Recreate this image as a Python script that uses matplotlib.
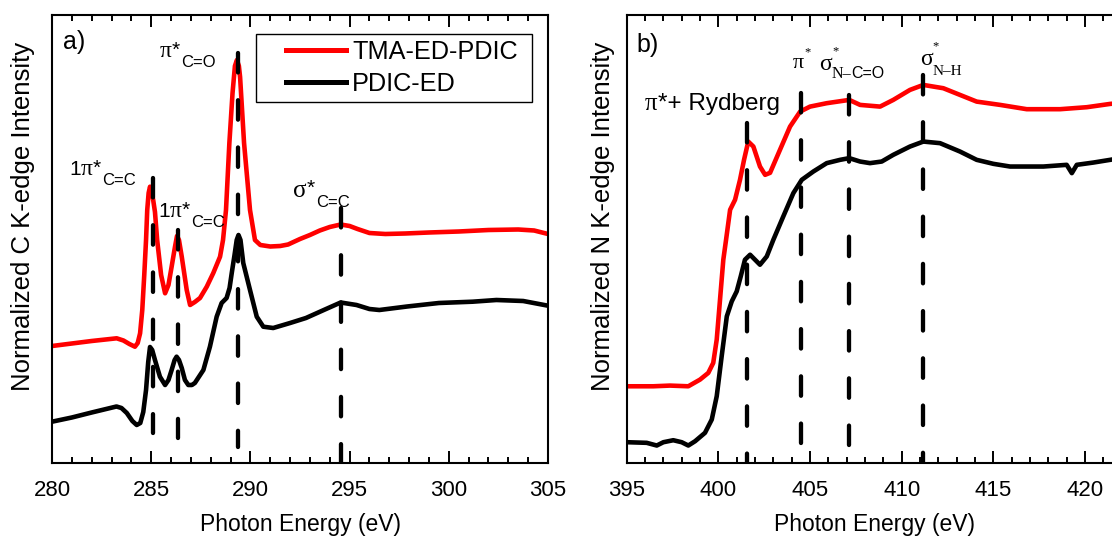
import matplotlib
matplotlib.use("Agg")
import matplotlib.pyplot as plt
from matplotlib.ticker import MultipleLocator
from matplotlib.legend_handler import HandlerLine2D
from matplotlib.lines import Line2D

plt.rcParams["font.family"] = ["Liberation Sans", "DejaVu Sans"]
plt.rcParams["lines.scale_dashes"] = False

SANS = ["Liberation Sans", "DejaVu Sans"]
SERIF = ["Liberation Serif", "DejaVu Serif"]

# ---------------- C K-edge (panel a) ----------------
c_energy_tma = [280.0, 281.0, 282.0, 283.26, 283.6, 283.9, 284.18, 284.32, 284.44, 284.55,
                284.65, 284.74, 284.8, 284.87, 284.94, 285.02, 285.1, 285.19, 285.3, 285.5,
                285.7, 285.87, 286.03, 286.2, 286.3, 286.4, 286.54, 286.79, 286.96, 287.2,
                287.46, 287.8, 288.13, 288.47, 288.62, 288.77, 288.94, 289.1, 289.22, 289.32,
                289.42, 289.48, 289.68, 289.98, 290.23, 290.5, 291.0, 291.5, 291.9, 292.5,
                293.0, 293.5, 294.0, 294.55, 295.0, 295.4, 296.0, 296.8, 297.8, 299.0,
                300.5, 302.0, 303.5, 304.3, 305.0]
c_int_tma = [117, 119.5, 122, 124.7, 122.5, 119, 116.3, 120, 129.7, 153,
             188, 223, 253, 270, 276.3, 271, 263, 251, 223, 188,
             169.7, 178, 196.3, 216.3, 227, 223, 206.3, 173, 158, 161,
             165, 176.3, 190, 206.3, 223, 253, 320, 370, 397, 403,
             397, 386, 320, 253, 223, 218, 216.5, 217, 218.5, 224,
             228, 232.5, 236, 238.5, 237, 234, 230, 229, 229.5, 230.5,
             231.5, 233, 233.5, 232.5, 229]

c_energy_pdic = [280.0, 281.0, 282.0, 283.25, 283.5, 283.77, 284.05, 284.27, 284.45, 284.6,
                 284.74, 284.85, 284.94, 285.05, 285.19, 285.44, 285.7, 285.87, 286.03, 286.18,
                 286.28, 286.4, 286.54, 286.7, 286.87, 287.05, 287.2, 287.63, 287.96, 288.3,
                 288.55, 288.8, 288.95, 289.06, 289.2, 289.31, 289.4, 289.5, 289.64, 289.98,
                 290.32, 290.65, 291.15, 292.0, 292.8, 293.7, 294.55, 295.35, 296.0, 296.5,
                 297.9, 299.5, 301.2, 302.4, 303.75, 305.0]
c_int_pdic = [41.3, 45.5, 50.5, 56.5, 55, 50, 42, 38, 40, 51,
              73, 101, 116, 113, 103, 86.3, 78, 83, 93, 103,
              106.3, 103, 95, 83, 78, 78, 80, 93, 116.3, 146.3,
              160, 165, 175, 190, 208, 223, 228, 223, 200, 173,
              146.3, 136.3, 135, 140, 145, 153, 160.5, 158, 154, 153,
              156.5, 160, 161.3, 163, 162, 157.3]

c_marker_energy = [285.1, 286.35, 289.35, 294.55]
c_marker_top = [285, 233, 410, 255]
c_marker_bottom = [30, 25, 16, 0]

# ---------------- N K-edge (panel b) ----------------
n_energy_tma = [395.03, 396.45, 397.36, 398.36, 399.0, 399.45, 399.72, 399.91, 400.09, 400.27,
                400.42, 400.64, 400.91, 401.18, 401.4, 401.63, 401.91, 402.27, 402.55, 402.82,
                403.36, 403.91, 404.46, 405.0, 405.91, 407.14, 407.73, 408.82, 409.54, 410.45,
                411.18, 412.27, 413.18, 414.09, 415.37, 416.82, 418.64, 420.1, 421.37, 422.0]
n_int_tma = [76.3, 76.3, 77, 76.3, 83, 89.7, 99.7, 123, 163, 203,
             223, 253, 263, 283, 303, 321.3, 316.3, 296.3, 288, 290,
             313, 336.3, 351.3, 356.3, 359.7, 363, 358, 356.3, 363, 373,
             378, 374.7, 368, 361.3, 358, 353.7, 353.7, 355.7, 359, 360]

n_energy_pdic = [395.03, 396.09, 396.64, 397.0, 397.54, 398.0, 398.36, 398.73, 399.27, 399.64,
                 399.91, 400.18, 400.46, 400.73, 401.0, 401.22, 401.45, 401.73, 402.0, 402.27,
                 402.64, 403.0, 403.54, 404.09, 404.55, 405.18, 405.91, 406.64, 407.14, 407.73,
                 408.27, 408.91, 409.54, 410.45, 411.18, 412.09, 413.18, 414.09, 415.0, 415.91,
                 417.73, 419.0, 419.28, 419.55, 420.46, 421.37, 422.0]
n_int_pdic = [20.3, 19.7, 17, 20.3, 22.3, 20.3, 17, 21.3, 29.7, 43,
              66.3, 106.3, 146.3, 161.3, 171.3, 186.3, 203, 208, 203, 198,
              206.3, 223, 246.3, 269.7, 283, 291.3, 299.7, 303, 304.7, 301.3,
              299.7, 301.3, 308, 316.3, 321.3, 319.7, 311.3, 303, 299, 296.3,
              296.3, 298, 289.7, 298, 300.3, 303, 305]

n_marker_energy = [401.58, 404.51, 407.15, 411.18]
n_marker_top = [340, 370, 368, 388]
n_marker_bottom = [0, 0, 0, 0]

series_labels = ["TMA-ED-PDIC", "PDIC-ED"]
series_colors = ["#ff0000", "#000000"]


def place_label(ax, x, y, pieces):
    """Lay text pieces out left to right; each piece starts at the right
    edge of its anchor piece and may be shifted (points) up or down."""
    placed = []
    for text, size, family, dx, dy, anchor in pieces:
        if not placed:
            t = ax.annotate(text, xy=(x, y), xycoords="data",
                            xytext=(dx, dy), textcoords="offset points",
                            fontsize=size, family=family,
                            ha="left", va="baseline")
        else:
            t = ax.annotate(text, xy=(1, y), xycoords=(placed[anchor], "data"),
                            xytext=(dx, dy), textcoords="offset points",
                            fontsize=size, family=family,
                            ha="left", va="baseline")
        placed.append(t)
    return placed


def style_axes(ax, xmin, xmax):
    ax.set_xlim(xmin, xmax)
    ax.set_ylim(0, 448)
    ax.set_yticks([])
    ax.xaxis.set_major_locator(MultipleLocator(5))
    ax.xaxis.set_minor_locator(MultipleLocator(1))
    ax.tick_params(axis="x", which="both", direction="in", top=True,
                   width=1.4, labelsize=16, pad=12.5)
    ax.tick_params(axis="x", which="major", length=8.5)
    ax.tick_params(axis="x", which="minor", length=4.5)
    for sp in ax.spines.values():
        sp.set_linewidth(1.5)
    ax.set_xlabel("Photon Energy (eV)", fontsize=16.5)
    ax.xaxis.set_label_coords(0.5, -0.112)


def draw_markers(ax, energies, tops, bottoms):
    for e, t, b in zip(energies, tops, bottoms):
        ax.plot([e, e], [t, b], color="black", lw=3.1,
                dashes=(14, 20), dash_capstyle="round", zorder=5)


fig = plt.figure(figsize=(11.12, 5.36), dpi=100)
axL = fig.add_axes([52 / 1112, 73 / 536, 496 / 1112, 448 / 536])
axR = fig.add_axes([626.7 / 1112, 73.5 / 536, 495 / 1112, 447.5 / 536])

# panel a
lr, = axL.plot(c_energy_tma, c_int_tma, color=series_colors[0], lw=3.3,
               solid_joinstyle="round", label=series_labels[0])
lb, = axL.plot(c_energy_pdic, c_int_pdic, color=series_colors[1], lw=3.3,
               solid_joinstyle="round", label=series_labels[1])
draw_markers(axL, c_marker_energy, c_marker_top, c_marker_bottom)
style_axes(axL, 280, 305)
axL.set_ylabel("Normalized C K-edge Intensity", fontsize=18.5)
axL.yaxis.set_label_coords(-0.0335, 0.55)
axL.text(0.023, 0.939, "a)", transform=axL.transAxes, fontsize=18, va="center")

place_label(axL, 285.44, 406, [("π", 17, SERIF, 0, 0, -1),
                                ("*", 15, SANS, 0, 1, -1),
                                ("C=O", 12, SANS, 1, -7, -1)])
place_label(axL, 280.86, 288, [("1", 15, SANS, 0, 0, -1),
                                ("π", 17, SERIF, 0, 0, -1),
                                ("*", 15, SANS, 0, 1, -1),
                                ("C=C", 12, SANS, 1, -7, -1)])
place_label(axL, 285.34, 246, [("1", 15, SANS, 0, 0, -1),
                                ("π", 17, SERIF, 0, 0, -1),
                                ("*", 15, SANS, 0, 1, -1),
                                ("C=C", 12, SANS, 1, -7, -1)])
place_label(axL, 292.15, 266, [("σ", 18, SERIF, 0, 0, -1),
                                ("*", 15, SANS, 0, 2, -1),
                                ("C=C", 12, SANS, 1, -7, -1)])

leg = axL.legend(handles=[lr, lb], loc="upper left",
                 bbox_to_anchor=(0.4113, 0.5, 0.5565, 0.4576), mode="expand",
                 fontsize=18.2, frameon=True, fancybox=False, edgecolor="black",
                 framealpha=1, borderpad=0.25, labelspacing=0.29,
                 handlelength=3.31, handletextpad=0.24, borderaxespad=0,
                 handler_map={Line2D: HandlerLine2D(xpad=0.94)})
leg.get_frame().set_linewidth(1.0)
for ln in leg.get_lines():
    ln.set_linewidth(3.6)

# panel b
axR.plot(n_energy_tma, n_int_tma, color=series_colors[0], lw=3.3,
         solid_joinstyle="round")
axR.plot(n_energy_pdic, n_int_pdic, color=series_colors[1], lw=3.3,
         solid_joinstyle="round")
draw_markers(axR, n_marker_energy, n_marker_top, n_marker_bottom)
style_axes(axR, 395, 422)
axR.set_ylabel("Normalized N K-edge Intensity", fontsize=18.5)
axR.yaxis.set_label_coords(-0.0245, 0.55)
axR.text(0.02, 0.933, "b)", transform=axR.transAxes, fontsize=18, va="center")

place_label(axR, 396.0, 353, [("π", 18, SERIF, 0, 0, -1),
                               ("*+ Rydberg", 17.5, SANS, 0, 0, -1)])
place_label(axR, 404.07, 395, [("π", 16, SERIF, 0, 0, -1),
                                ("*", 9, SERIF, 0, 9, -1)])
place_label(axR, 405.5, 393, [("σ", 17, SERIF, 0, 0, -1),
                               ("*", 9, SERIF, 0, 11, 0),
                               ("N–", 11.5, SERIF, 0, -6, 0),
                               ("C=O", 11.5, SANS, 0, -6, -1)])
place_label(axR, 411.0, 398, [("σ", 17, SERIF, 0, 0, -1),
                               ("*", 9, SERIF, 0, 11, 0),
                               ("N–H", 11, SERIF, 0, -7, 0)])

fig.savefig("out.png", dpi=100)
